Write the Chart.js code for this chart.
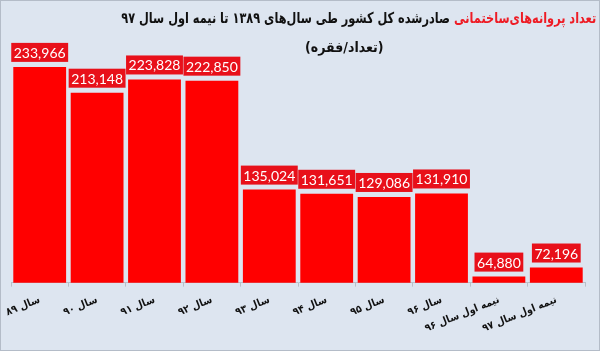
<!DOCTYPE html>
<html>
<head>
<meta charset="utf-8">
<script src="https://cdn.jsdelivr.net/npm/chart.js@4"></script>
<style>
  html, body { margin: 0; padding: 0; background: #dde5f0; }
  #wrap { position: relative; width: 600px; height: 351px; box-sizing: border-box; border: 1px solid #b4bcc8; }
  .ttl { position: absolute; direction: rtl; font-family: "DejaVu Sans Condensed", "DejaVu Sans", sans-serif;
         font-weight: bold; color: #111; white-space: nowrap; line-height: 1; }
  #t1 { top: 10px; right: 3px; font-size: 15px; transform-origin: right top; }
  #t2 { top: 39px; left: 304px; font-size: 14px; transform-origin: left top; }
  #t1 .red { color: #ee1c25; }
</style>
</head>
<body>
<div id="wrap">
  <canvas id="barChart" width="598" height="349"></canvas>
  <div class="ttl" id="t1"><span class="red">تعداد پروانه‌های‌ساختمانی</span> صادرشده کل کشور طی سال‌های ۱۳۸۹ تا نیمه اول سال ۹۷</div>
  <div class="ttl" id="t2">(تعداد/فقره)</div>
</div>
<script>
/* data */
const years = ["سال ۸۹","سال ۹۰","سال ۹۱","سال ۹۲","سال ۹۳","سال ۹۴","سال ۹۵","سال ۹۶","نیمه اول سال ۹۶","نیمه اول سال ۹۷"];
const permits = [233966, 213148, 223828, 222850, 135024, 131651, 129086, 131910, 64880, 72196];

// squeeze the title lines to the widths they have in the original
function fitWidth(id, target){
    const el = document.getElementById(id);
    const w = el.getBoundingClientRect().width;
    el.style.transform = "scaleX(" + Math.min(1, target / w) + ")";
}
fitWidth("t1", 475);
fitWidth("t2", 96);

// red boxes with the value above each bar
const valueBoxes = {
    id: "valueBoxes",
    afterDatasetsDraw(chart){
        const ctx = chart.ctx;
        const meta = chart.getDatasetMeta(0);
        ctx.save();
        ctx.font = "14px Lato";
        ctx.textAlign = "center";
        ctx.textBaseline = "middle";
        meta.data.forEach((bar, i) => {
            const txt = permits[i].toLocaleString("en-US");
            const w = ctx.measureText(txt).width + 5;
            const h = 19;
            const y = bar.y - 5 - h;
            ctx.fillStyle = "#e8101a";
            ctx.fillRect(bar.x - w/2, y, w, h);
            ctx.fillStyle = "#ffffff";
            ctx.fillText(txt, bar.x, y + h/2 + 1);
        });
        ctx.restore();
    }
};

const barCtx = document.getElementById("barChart").getContext("2d");
let permitChart = new Chart(barCtx, {
    type: "bar",
    data: {
        labels: years,
        datasets: [{
            data: permits,
            backgroundColor: "#ff0000",
            categoryPercentage: 0.92,
            barPercentage: 1,
        }],
    },
    options: {
        responsive: false,
        animation: false,
        layout: { padding: { left: 0, right: 14, top: 46, bottom: 8 } },
        plugins: {
            legend: { display: false },
            tooltip: { enabled: false },
        },
        scales: {
            y: { display: false, min: 60000, max: 250000 },
            x: {
                afterFit(scale){
                    scale.paddingLeft = 10;
                    scale.paddingRight = 0;
                },
                grid: { offset: true, drawOnChartArea: false, tickLength: 4, color: "#b9c0c9" },
                border: { color: "#b9c0c9" },
                ticks: {
                    color: "#111",
                    font: { family: "DejaVu Sans Condensed, DejaVu Sans", size: 10.5, weight: "bold" },
                    minRotation: 22,
                    maxRotation: 22,
                    padding: 7,
                    autoSkip: false,
                },
            },
        },
    },
    plugins: [valueBoxes],
});
</script>
</body>
</html>
